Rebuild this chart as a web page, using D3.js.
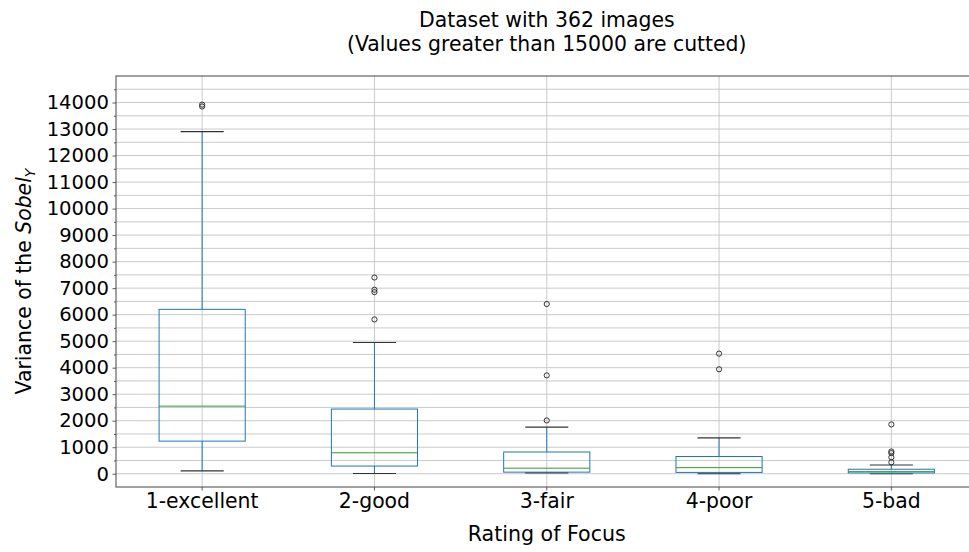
<!DOCTYPE html>
<html>
<head>
<meta charset="utf-8">
<script src="https://cdn.jsdelivr.net/npm/d3@7"></script>
<style>
  body { margin: 0; background: #fff; }
  svg { display: block; overflow: hidden; font-family: "DejaVu Sans", sans-serif; }
</style>
</head>
<body>
<div id="chart"></div>
<script>
// box statistics
const categories = ['1-excellent', '2-good', '3-fair', '4-poor', '5-bad'];
const q1 = [1230, 290, 60, 50, 30];
const medians = [2550, 790, 210, 230, 80];
const q3 = [6200, 2440, 820, 650, 170];
const whiskerLow = [110, 10, 30, 0, 0];
const whiskerHigh = [12900, 4950, 1760, 1350, 330];
const outliers = [
  [13850, 13920],
  [7400, 6850, 6940, 5820],
  [6400, 3710, 2010],
  [4530, 3940],
  [1860, 840, 780, 620, 430]
];
const yMajorTicks = d3.range(0, 14001, 1000);
const yMinorTicks = d3.range(500, 14501, 1000);

const W = 969, H = 552;
const margin = { top: 76, left: 116, right: -8.5, bottom: 65 };
const innerW = W - margin.left - margin.right;
const innerH = H - margin.top - margin.bottom;

const svg = d3.select('#chart')
  .append('svg')
  .attr('width', W)
  .attr('height', H);

const g = svg.append('g')
  .attr('transform', `translate(${margin.left},${margin.top})`);

const x = d3.scaleBand()
  .domain(categories)
  .range([0, innerW])
  .padding(0);
const bw = x.bandwidth();
const cx = d => x(d) + bw / 2;

const y = d3.scaleLinear()
  .domain([-500, 15000])
  .range([innerH, 0]);

// grid lines (major + minor, same style)
const gridColor = '#c4c4c4';
g.append('g')
  .selectAll('line')
  .data(yMajorTicks.concat(yMinorTicks))
  .join('line')
  .attr('x1', 0).attr('x2', innerW)
  .attr('y1', d => y(d)).attr('y2', d => y(d))
  .attr('stroke', gridColor)
  .attr('stroke-width', 0.9);

g.append('g')
  .selectAll('line')
  .data(categories)
  .join('line')
  .attr('x1', d => cx(d)).attr('x2', d => cx(d))
  .attr('y1', 0).attr('y2', innerH)
  .attr('stroke', gridColor)
  .attr('stroke-width', 0.9);

// axes
const yAxis = g.append('g')
  .call(d3.axisLeft(y).tickValues(yMajorTicks).tickSize(3.5).tickPadding(3.5).tickFormat(d3.format('d')));
yAxis.append('g')
  .call(d3.axisLeft(y).tickValues(yMinorTicks).tickSize(2).tickFormat(''));
yAxis.selectAll('.domain').remove();
yAxis.selectAll('.tick text').style('font-size', '19.6px');

const xAxis = g.append('g')
  .attr('transform', `translate(0,${innerH})`)
  .call(d3.axisBottom(x).tickSize(3.5).tickPadding(3.5));
xAxis.select('.domain').remove();
xAxis.selectAll('.tick text').style('font-size', '20.4px');

svg.selectAll('.tick line').attr('stroke', '#333').attr('stroke-width', 0.8);
svg.selectAll('.tick text')
  .attr('fill', '#000')
  .style('font-family', '"DejaVu Sans", sans-serif');

// boxes
const boxes = g.append('g')
  .selectAll('g')
  .data(categories)
  .join('g');

const blue = '#1f77b4';

boxes.append('line')
  .attr('x1', d => cx(d)).attr('x2', d => cx(d))
  .attr('y1', (d, i) => y(q3[i])).attr('y2', (d, i) => y(whiskerHigh[i]))
  .attr('stroke', blue).attr('stroke-width', 1);
boxes.append('line')
  .attr('x1', d => cx(d)).attr('x2', d => cx(d))
  .attr('y1', (d, i) => y(q1[i])).attr('y2', (d, i) => y(whiskerLow[i]))
  .attr('stroke', blue).attr('stroke-width', 1);

[whiskerHigh, whiskerLow].forEach(arr => {
  boxes.append('line')
    .attr('x1', d => cx(d) - bw / 8).attr('x2', d => cx(d) + bw / 8)
    .attr('y1', (d, i) => y(arr[i])).attr('y2', (d, i) => y(arr[i]))
    .attr('stroke', '#333').attr('stroke-width', 1.2);
});

boxes.append('rect')
  .attr('x', d => cx(d) - bw / 4)
  .attr('width', bw / 2)
  .attr('y', (d, i) => y(q3[i]))
  .attr('height', (d, i) => y(q1[i]) - y(q3[i]))
  .attr('fill', 'none')
  .attr('stroke', blue)
  .attr('stroke-width', 1);

boxes.append('line')
  .attr('x1', d => cx(d) - bw / 4).attr('x2', d => cx(d) + bw / 4)
  .attr('y1', (d, i) => y(medians[i])).attr('y2', (d, i) => y(medians[i]))
  .attr('stroke', '#2ca02c').attr('stroke-width', 1);

boxes.each(function (d, i) {
  d3.select(this).selectAll('circle')
    .data(outliers[i])
    .join('circle')
    .attr('cx', cx(d))
    .attr('cy', v => y(v))
    .attr('r', 2.6)
    .attr('fill', 'none')
    .attr('stroke', '#222')
    .attr('stroke-width', 0.9);
});

// frame
g.append('rect')
  .attr('width', innerW).attr('height', innerH)
  .attr('fill', 'none')
  .attr('stroke', '#444')
  .attr('stroke-width', 1);

// labels
svg.append('text')
  .attr('x', margin.left + innerW / 2)
  .attr('y', 541)
  .attr('text-anchor', 'middle')
  .style('font-size', '20.6px')
  .text('Rating of Focus');

const yl = svg.append('text')
  .attr('transform', `translate(31,${margin.top + innerH / 2}) rotate(-90)`)
  .attr('text-anchor', 'middle')
  .style('font-size', '20.4px');
yl.append('tspan').text('Variance of the ');
yl.append('tspan').style('font-style', 'italic').text('Sobel');
yl.append('tspan').style('font-style', 'italic').style('font-size', '14px').attr('dy', 4).text('Y');

const title = svg.append('text')
  .attr('text-anchor', 'middle')
  .style('font-size', '20.4px');
title.append('tspan').attr('x', margin.left + innerW / 2).attr('y', 27).text('Dataset with 362 images');
title.append('tspan').attr('x', margin.left + innerW / 2).attr('y', 51).text('(Values greater than 15000 are cutted)');
</script>
</body>
</html>
